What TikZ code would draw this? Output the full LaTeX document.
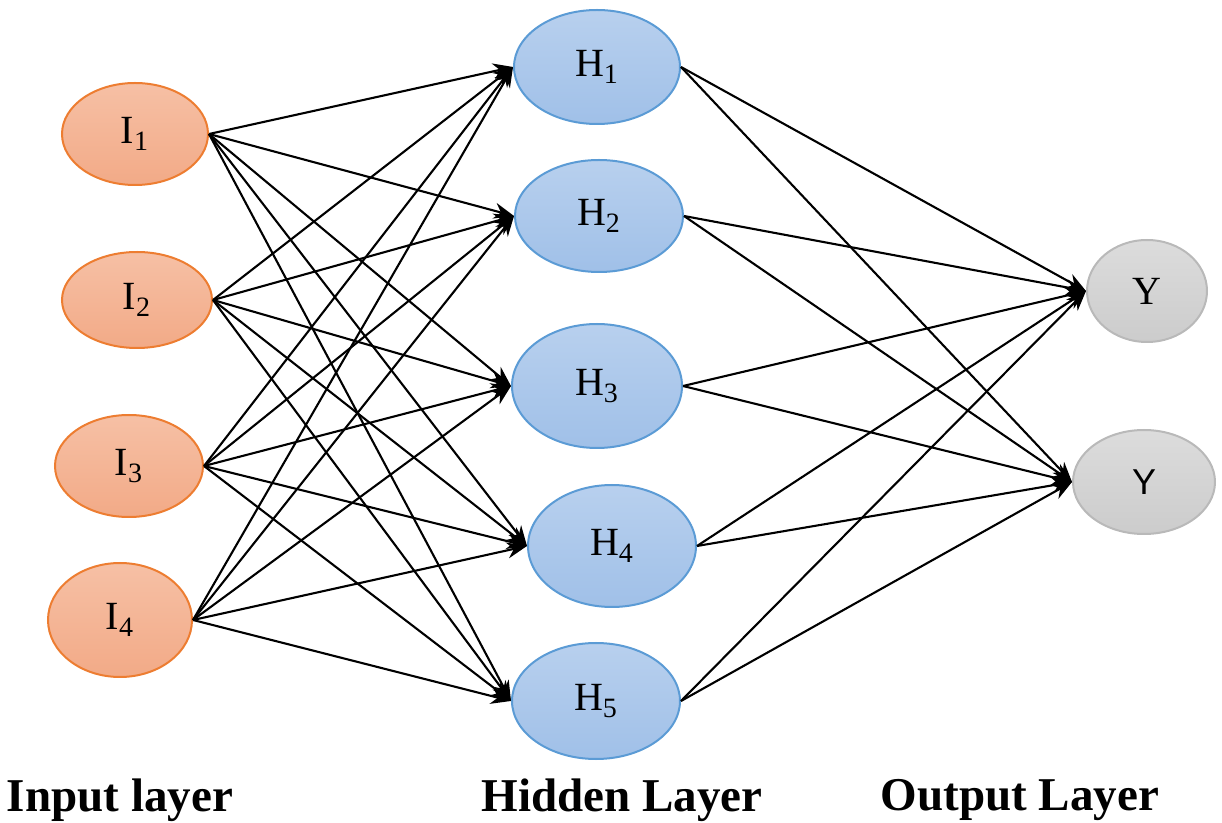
\documentclass[tikz,border=0pt]{standalone}
\usepackage{fontspec}
\setmainfont{Liberation Serif}
\newfontfamily\ysans{Liberation Sans}
\usetikzlibrary{shapes.geometric,arrows.meta}
\definecolor{inborder}{RGB}{237,125,49}
\definecolor{intop}{RGB}{246,192,165}
\definecolor{inbot}{RGB}{242,170,135}
\definecolor{hidborder}{RGB}{91,155,213}
\definecolor{hidtop}{RGB}{184,208,238}
\definecolor{hidbot}{RGB}{160,192,232}
\definecolor{outborder}{RGB}{185,185,185}
\definecolor{outtop}{RGB}{220,220,220}
\definecolor{outbot}{RGB}{204,204,204}
\tikzset{
  neuron/.style={ellipse, inner sep=0pt, line width=1pt, font=\fontsize{20}{22}\selectfont},
  inp/.style={neuron, draw=inborder, top color=intop, bottom color=inbot},
  hid/.style={neuron, draw=hidborder, top color=hidtop, bottom color=hidbot},
  outp/.style={neuron, draw=outborder, top color=outtop, bottom color=outbot},
  conn/.style={-{Stealth[length=10pt,width=8pt]}, line width=1.05pt, black},
  lbl/.style={font=\fontsize{21}{24}\selectfont\bfseries, inner sep=0pt}
}
\begin{document}
\begin{tikzpicture}[x=0.5pt,y=-0.5pt]
\useasboundingbox (0,0) rectangle (1222,823);
% input layer
\node[inp, minimum width=73pt, minimum height=51pt] (I1) at (135,134) {I\textsubscript{1}};
\node[inp, minimum width=75pt, minimum height=48pt] (I2) at (137,300) {I\textsubscript{2}};
\node[inp, minimum width=74pt, minimum height=51pt] (I3) at (129,466) {I\textsubscript{3}};
\node[inp, minimum width=72pt, minimum height=57pt] (I4) at (120,620) {I\textsubscript{4}};
% hidden layer
\node[hid, minimum width=83pt, minimum height=57pt] (H1) at (597,67) {H\textsubscript{1}};
\node[hid, minimum width=84pt, minimum height=56pt] (H2) at (599,216) {H\textsubscript{2}};
\node[hid, minimum width=85pt, minimum height=62pt] (H3) at (597,386) {H\textsubscript{3}};
\node[hid, minimum width=84pt, minimum height=61pt] (H4) at (612,546) {H\textsubscript{4}};
\node[hid, minimum width=84pt, minimum height=58pt] (H5) at (596,701) {H\textsubscript{5}};
% output layer
\node[outp, minimum width=60pt, minimum height=51pt] (Y1) at (1147,291) {Y};
\node[outp, minimum width=71pt, minimum height=52pt] (Y2) at (1144,482) {\ysans\fontsize{18}{20}\selectfont Y};
% connections input -> hidden
\foreach \i in {1,2,3,4}{
  \foreach \h in {1,2,3,4,5}{
    \draw[conn] (I\i.east) -- (H\h.west);
  }
}
% connections hidden -> output
\foreach \h in {1,2,3,4,5}{
  \foreach \o in {1,2}{
    \draw[conn] (H\h.east) -- (Y\o.west);
  }
}
% layer labels
\node[lbl] (LI) at (120,800) {\scalebox{1.12}[1.12]{Input layer}};
\node[lbl] (LH) at (622,800) {\scalebox{1.12}[1.12]{Hidden Layer}};
\node[lbl] (LO) at (1020,800) {\scalebox{1.12}[1.12]{Output Layer}};
\end{tikzpicture}
\end{document}
